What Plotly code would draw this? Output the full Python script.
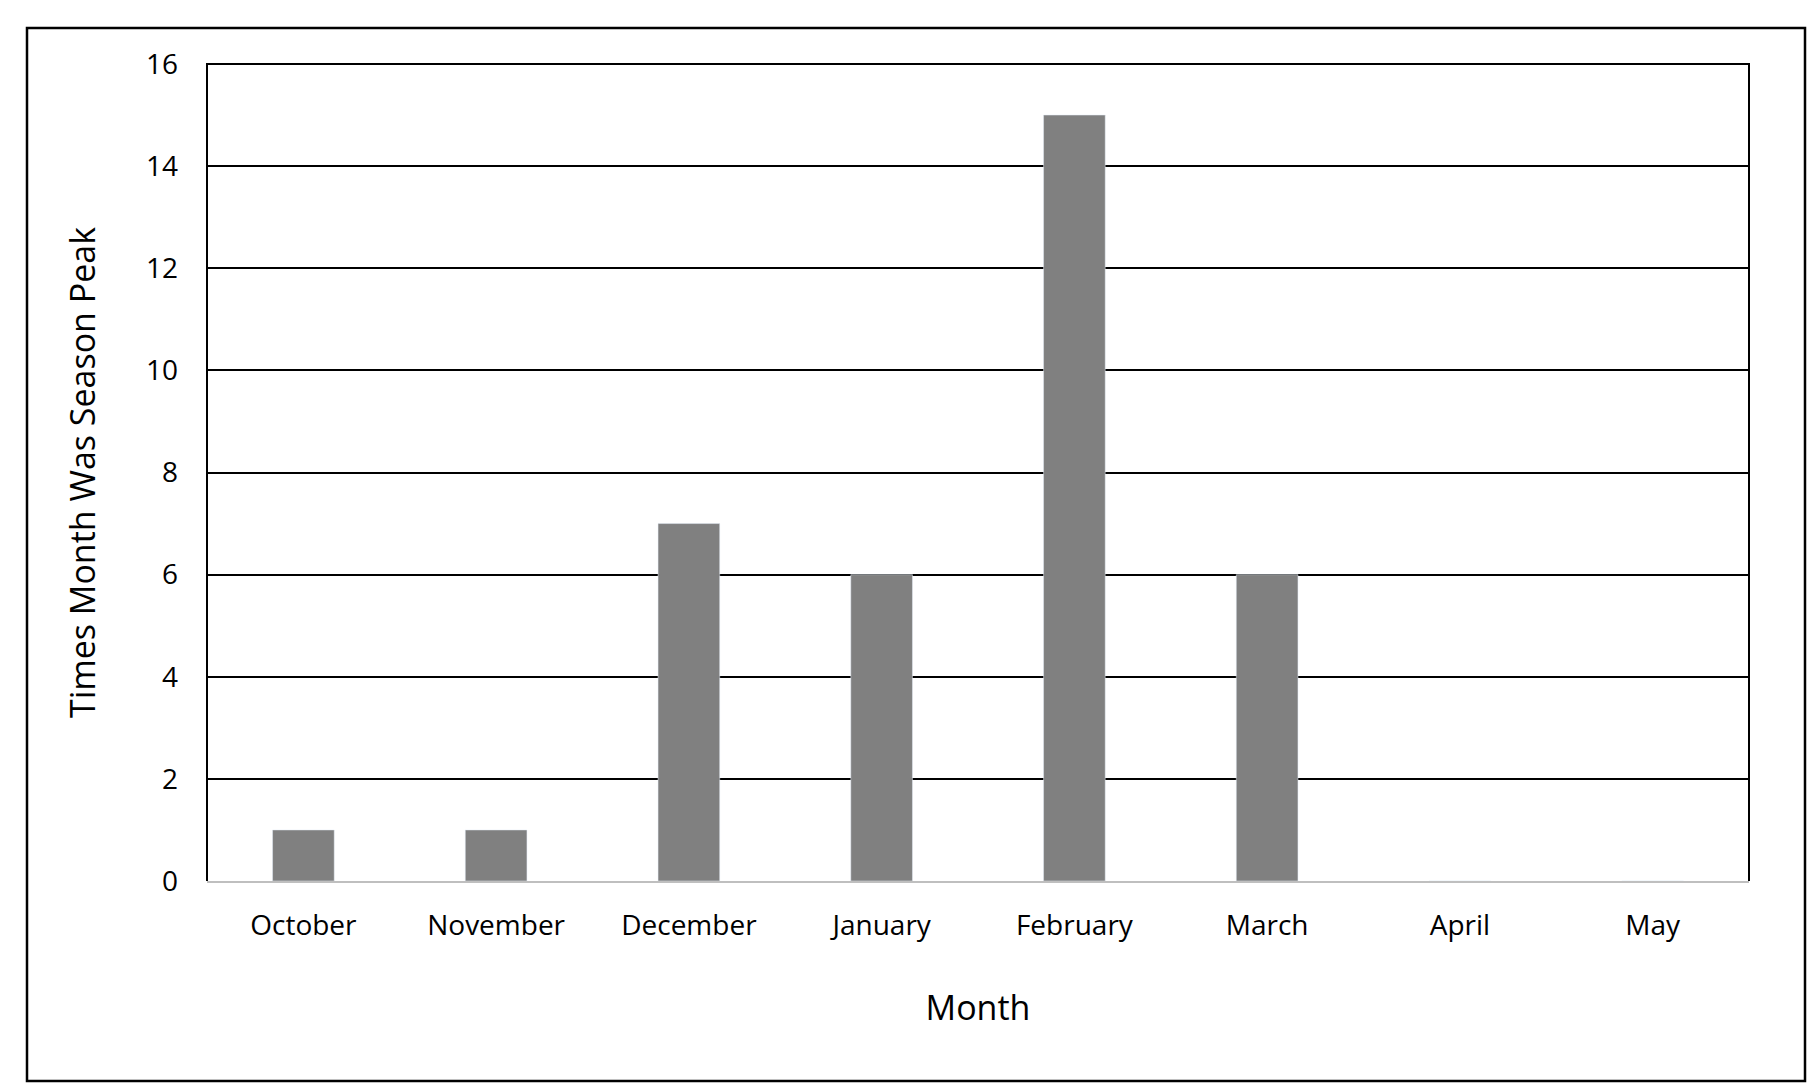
import plotly.graph_objects as go

months = ["October", "November", "December", "January", "February", "March", "April", "May"]
peak_counts = [1, 1, 7, 6, 15, 6, 0, 0]
y_ticks = [0, 2, 4, 6, 8, 10, 12, 14, 16]

W, H = 1819, 1091
L, R, T, B = 199, 78, 56, 218
pw, ph = W - L - R, H - T - B

fig = go.Figure(go.Bar(x=months, y=peak_counts, marker_color="#808080", width=0.32))

fig.update_layout(
    width=W, height=H,
    margin=dict(l=L, r=R, t=T, b=B),
    plot_bgcolor="white", paper_bgcolor="white",
    font=dict(family="Open Sans, Liberation Sans, sans-serif", size=28, color="black"),
    showlegend=False,
    xaxis=dict(title=dict(text="Month", standoff=55), showline=True, linecolor="#bfbfbf", linewidth=2,
               mirror=False, ticks="", ticklabelstandoff=18),
    yaxis=dict(title=dict(text="Times Month Was Season Peak", standoff=40), range=[0, 16],
               tickvals=y_ticks, showgrid=True, gridcolor="black", gridwidth=1.5,
               zeroline=False, ticks="", ticklabelstandoff=28),
    shapes=[
        # plot area frame (left, top, right)
        dict(type="path", xref="paper", yref="paper",
             path="M 0 0 L 0 1 L 1 1 L 1 0", line=dict(color="black", width=2)),
        # outer border around whole chart
        dict(type="rect", xref="paper", yref="paper",
             x0=(19 - L) / pw, x1=(W - 22 - L) / pw,
             y0=-(H - 18 - (T + ph)) / ph, y1=(T + ph - 20) / ph,
             line=dict(color="black", width=2.5)),
    ],
)

fig.write_html("out.html")
